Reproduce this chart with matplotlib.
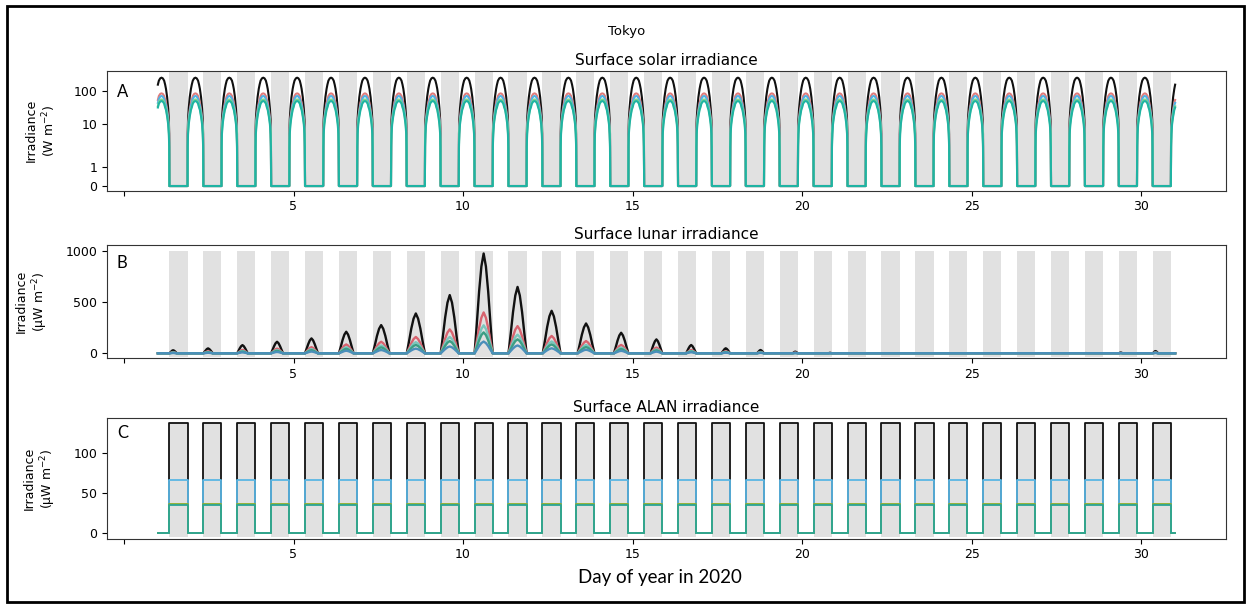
import numpy as np
import matplotlib
matplotlib.use("Agg")
import matplotlib.pyplot as plt
from matplotlib.patches import Rectangle
from matplotlib.ticker import NullLocator

# ------------------------------------------------------------------ data
nights = list(range(1, 31))          # day-of-year index of each night
night_start = 0.34                   # fraction of the day when night begins
night_end = 0.875                    # fraction of the (same) day when night ends

# Solar irradiance: one diurnal cycle (time = fraction of day), W m-2
solar_t = [-0.125, -0.12, -0.11, -0.09, -0.06, -0.025, 0.0, 0.03, 0.07, 0.107,
           0.145, 0.185, 0.215, 0.24, 0.274, 0.304, 0.324, 0.334, 0.34]
solar_black = [0, 6, 14, 30, 65, 115, 155, 205, 240, 251, 240, 205, 155, 115, 65, 30, 14, 6, 0]
solar_red = [0, 4.5, 9, 16, 27, 44, 54, 71, 82, 85, 82, 71, 54, 44, 27, 16, 9, 4.5, 0]
solar_blue = [0, 4, 8, 14, 23, 37, 44, 58, 68, 71, 68, 58, 44, 37, 23, 14, 8, 4, 0]
solar_green = [0, 3.5, 7, 12, 19, 30, 35, 46, 54, 56, 54, 46, 35, 30, 19, 12, 7, 3.5, 0]
solar_teal = [0, 3, 6, 10, 17, 27, 32, 42, 48, 50, 48, 42, 32, 27, 17, 10, 6, 3, 0]

# Lunar irradiance: moon-up window inside each night and nightly peak, uW m-2
moon_rise = [0.34, 0.34, 0.34, 0.34, 0.34, 0.34, 0.34, 0.34, 0.34, 0.34,
             0.34, 0.35, 0.38, 0.45, 0.53, 0.58, 0.62, 0.67, 0.72, 0.77,
             0.80, 0.80, 0.80, 0.80, 0.34, 0.34, 0.34, 0.34, 0.34, 0.34]
moon_set = [0.56, 0.62, 0.65, 0.69, 0.72, 0.77, 0.83, 0.875, 0.875, 0.875,
            0.875, 0.875, 0.875, 0.875, 0.875, 0.875, 0.875, 0.875, 0.875, 0.875,
            0.875, 0.875, 0.875, 0.875, 0.38, 0.38, 0.38, 0.40, 0.45, 0.50]
lunar_black = [30, 48, 80, 113, 146, 211, 276, 390, 570, 977, 650, 416, 292, 201, 136,
               81, 49, 32, 16, 5, 0, 0, 0, 0, 0, 0, 0, 2, 8, 22]
lunar_red = [12, 20, 33, 46, 60, 87, 113, 160, 234, 400, 266, 170, 120, 82, 56,
             33, 20, 13, 7, 2, 0, 0, 0, 0, 0, 0, 0, 1, 3, 9]
lunar_cyan = [8, 13, 22, 32, 41, 59, 77, 109, 160, 274, 182, 116, 82, 56, 38,
              23, 14, 9, 4, 1, 0, 0, 0, 0, 0, 0, 0, 1, 2, 6]
lunar_green = [6, 10, 17, 24, 31, 44, 58, 82, 120, 205, 137, 87, 61, 42, 29,
               17, 10, 7, 3, 1, 0, 0, 0, 0, 0, 0, 0, 0, 2, 5]
lunar_blue = [3, 5, 9, 13, 17, 25, 32, 46, 67, 115, 77, 49, 35, 24, 16,
              10, 6, 4, 2, 1, 0, 0, 0, 0, 0, 0, 0, 0, 1, 3]
moon_shape = [0, 0.3, 0.62, 0.87, 1.0, 0.87, 0.62, 0.3, 0]   # normalised arch

# ALAN irradiance: constant nightly level, uW m-2
alan_black = 138
alan_blue = 67
alan_olive = 36.5
alan_teal = 35

t_first, t_last = 1.0, 31.0
xticks = [0, 5, 10, 15, 20, 25, 30]
xticklabels = ['', '5', '10', '15', '20', '25', '30']

# ------------------------------------------------------------------ series builders
def solar_series(vals):
    t, y = [], []
    for d in range(1, 32):
        t.extend(d + np.array(solar_t))
        y.extend(vals)
    t = np.array(t)
    y = np.array(y, float)
    keep = (t >= t_first) & (t <= t_last)
    return t[keep], y[keep]


def lunar_series(peaks):
    t, y = [t_first], [0.0]
    shape = np.array(moon_shape)
    for n, r, s, p in zip(nights, moon_rise, moon_set, peaks):
        xs = n + np.linspace(r, s, len(shape))
        t.extend(xs)
        y.extend(p * shape)
    t.append(t_last)
    y.append(0.0)
    return np.array(t), np.array(y)


def alan_series(level):
    t, y = [t_first], [0.0]
    for n in nights:
        t.extend([n + night_start, n + night_start, n + night_end, n + night_end])
        y.extend([0, level, level, 0])
    t.append(t_last)
    y.append(0.0)
    return np.array(t), np.array(y)


# ------------------------------------------------------------------ figure
plt.rcParams['font.family'] = ['DejaVu Sans']
plt.rcParams['font.size'] = 9

fig = plt.figure(figsize=(12.5, 6.05), dpi=100)
W, H = 1250, 605


def add_axes(top_px, bot_px):
    return fig.add_axes([107 / W, 1 - bot_px / H, 1119 / W, (bot_px - top_px) / H])


axA = add_axes(71, 190.7)
axB = add_axes(244.5, 358)
axC = add_axes(418, 538.5)

gray = '#e1e1e1'


def bands(ax, lo, hi):
    for n in nights:
        ax.fill_between([n + night_start, n + night_end], lo, hi, color=gray,
                        lw=0, zorder=0)


# ---- Panel A: solar (custom log-like scale)
U_LOG = [56, 185, 285, 385, 485]


def fwd(y):
    y = np.asarray(y, float)
    lg = np.log10(np.clip(y, 1, None))
    return np.where(y <= 1, 56 * y, np.interp(lg, [0, 1, 2, 3, 4], U_LOG))


def inv(u):
    u = np.asarray(u, float)
    return np.where(u <= 56, u / 56, 10 ** np.interp(u, U_LOG, [0, 1, 2, 3, 4]))


axA.set_yscale('function', functions=(fwd, inv))
bands(axA, -0.05, 370)
for vals, col in [(solar_black, '#111111'), (solar_red, '#e07c7c'),
                  (solar_blue, '#4fb2e6'), (solar_green, '#7fd88c'),
                  (solar_teal, '#1fb3a3')]:
    t, y = solar_series(vals)
    axA.plot(t, y, color=col, lw=1.5)
axA.set_ylim(-0.25, 398)
axA.set_yticks([0, 1, 10, 100])
axA.set_yticklabels(['0', '1', '10', '100'])
axA.yaxis.set_minor_locator(NullLocator())
axA.set_ylabel('Irradiance\n(W m$^{-2}$)', labelpad=11)
axA.set_title('Surface solar irradiance', fontsize=11, pad=4)

# ---- Panel B: lunar
bands(axB, -40, 1005)
for vals, col in [(lunar_black, '#111111'), (lunar_red, '#d8636f'),
                  (lunar_cyan, '#7cc6bd'), (lunar_green, '#3c9e84'),
                  (lunar_blue, '#4a8fba')]:
    t, y = lunar_series(vals)
    axB.plot(t, y, color=col, lw=1.7)
axB.set_ylim(-46, 1065)
axB.set_yticks([0, 500, 1000])
axB.set_ylabel('Irradiance\n(μW m$^{-2}$)', labelpad=11)
axB.set_title('Surface lunar irradiance', fontsize=11, pad=4)

# ---- Panel C: ALAN
bands(axC, -5, 138)
for lvl, col in [(alan_black, '#111111'), (alan_blue, '#5ab6e4'),
                 (alan_olive, '#8fae2a'), (alan_teal, '#2aa596')]:
    t, y = alan_series(lvl)
    axC.plot(t, y, color=col, lw=1.3)
axC.set_ylim(-7.2, 144.7)
axC.set_yticks([0, 50, 100])
axC.set_ylabel('Irradiance\n(μW m$^{-2}$)', labelpad=11)
axC.set_title('Surface ALAN irradiance', fontsize=11, pad=4)

for ax in (axA, axB, axC):
    ax.set_xlim(-0.5, 32.5)
    ax.set_xticks(xticks)
    ax.set_xticklabels(xticklabels)
    for sp in ax.spines.values():
        sp.set_color('#333333')

# panel letters
for ax, base_px, top_px, bot_px, letter in [(axA, 97, 71, 190.7, 'A'),
                                            (axB, 268, 244.5, 358, 'B'),
                                            (axC, 438, 418, 538.5, 'C')]:
    ax.text(10 / 1119, (bot_px - base_px) / (bot_px - top_px), letter,
            transform=ax.transAxes, family=['Lato', 'DejaVu Sans'],
            fontsize=12, va='baseline', ha='left')

fig.text(627 / W, 1 - 32 / H, 'Tokyo', ha='center', va='center', fontsize=9.5)
fig.text(660 / W, 1 - 577 / H, 'Day of year in 2020', ha='center', va='center',
         family=['Lato', 'DejaVu Sans'], fontsize=13.5)

fig.add_artist(Rectangle((6.5 / W, 3 / H), (1244 - 6.5) / W, (602 - 6) / H,
                         transform=fig.transFigure, fill=False, lw=2, ec='black'))

fig.savefig('out.png', dpi=100)
